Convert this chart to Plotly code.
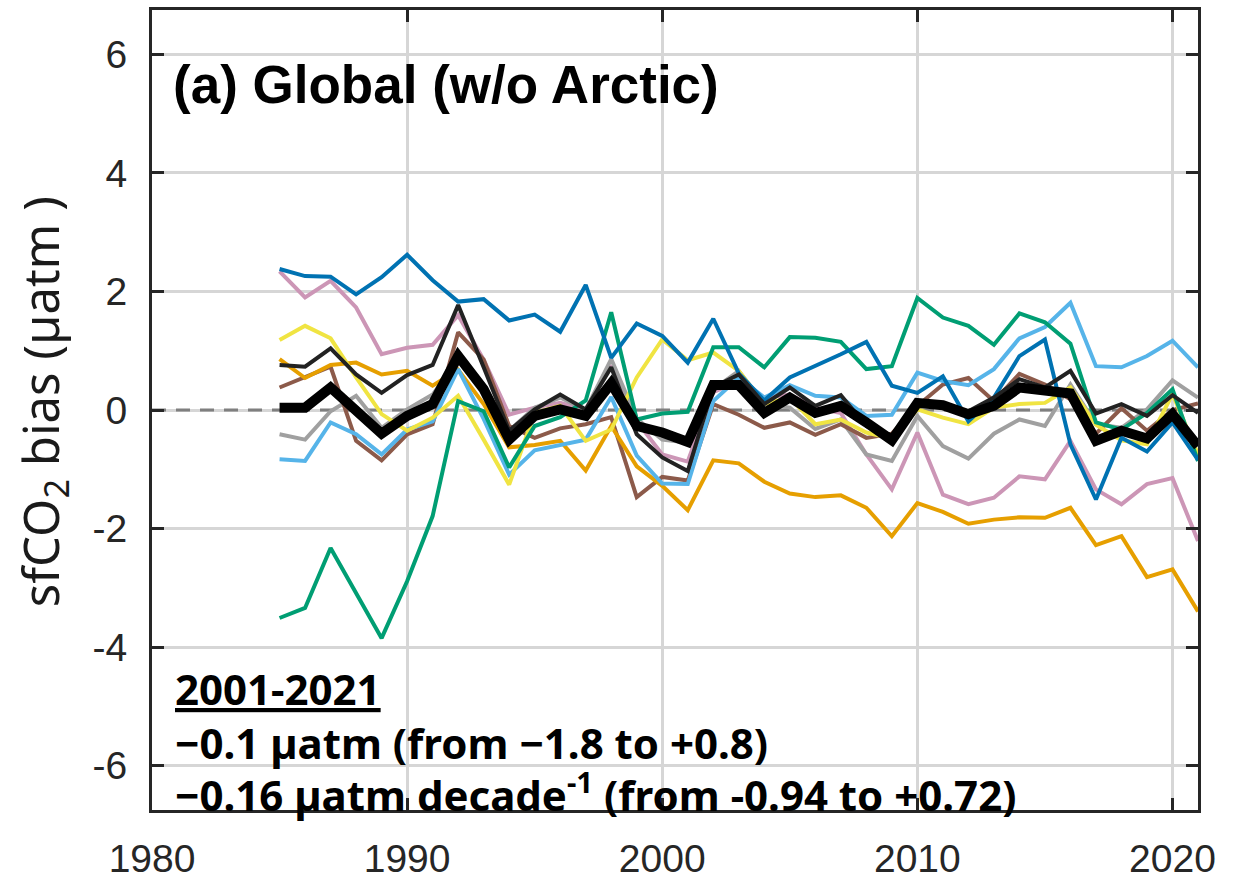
import plotly.graph_objects as go

years = list(range(1985, 2022))

# Individual product biases (µatm), one list per product
blue = [2.38, 2.26, 2.25, 1.95, 2.24, 2.62, 2.19, 1.83, 1.87, 1.51, 1.61, 1.32, 2.11, 0.88, 1.46, 1.25,
        0.80, 1.54, 0.62, 0.16, 0.55, 0.74, 0.94, 1.15, 0.41, 0.29, 0.57, -0.19, 0.21, 0.91, 1.19,
        -0.58, -1.51, -0.47, -0.70, -0.21, -0.84]
orange = [0.86, 0.54, 0.76, 0.80, 0.60, 0.66, 0.41, 0.68, 0.10, -0.63, -0.59, -0.52, -1.02, -0.27, -0.95, -1.28,
          -1.69, -0.85, -0.90, -1.21, -1.41, -1.47, -1.44, -1.65, -2.13, -1.57, -1.72, -1.92, -1.85, -1.81, -1.82,
          -1.65, -2.28, -2.13, -2.82, -2.69, -3.40]
skyblue = [-0.83, -0.86, -0.21, -0.41, -0.75, -0.33, -0.19, 0.69, -0.15, -1.09, -0.68, -0.59, -0.50, 0.22, -0.77, -1.24,
           -1.25, 0.15, 0.55, 0.21, 0.42, 0.24, 0.21, -0.10, -0.08, 0.63, 0.49, 0.42, 0.69, 1.21, 1.40,
           1.81, 0.74, 0.72, 0.91, 1.17, 0.72]
green = [-3.51, -3.34, -2.33, -3.09, -3.85, -2.89, -1.79, 0.15, -0.02, -0.97, -0.27, -0.12, 0.16, 1.65, -0.16, -0.06,
         -0.03, 1.06, 1.06, 0.72, 1.23, 1.22, 1.15, 0.69, 0.74, 1.89, 1.56, 1.42, 1.10, 1.63, 1.48,
         1.12, -0.21, -0.33, -0.05, 0.35, -0.86]
yellow = [1.18, 1.42, 1.21, 0.55, -0.07, -0.35, -0.13, 0.24, -0.50, -1.26, -0.05, 0.07, -0.52, -0.33, 0.55, 1.19,
          0.84, 0.97, 0.66, 0.10, 0.21, -0.24, -0.16, -0.38, -0.48, 0.01, -0.13, -0.24, 0.04, 0.10, 0.12,
          0.38, -0.25, -0.51, -0.58, 0.27, -0.75]
pink = [2.34, 1.90, 2.18, 1.73, 0.94, 1.05, 1.10, 1.60, 0.85, -0.08, 0.04, 0.12, 0.00, 0.75, -0.19, -0.75,
        -0.87, 0.30, 0.49, 0.21, 0.26, 0.04, -0.05, -0.75, -1.34, -0.38, -1.43, -1.59, -1.48, -1.12, -1.17,
        -0.52, -1.34, -1.59, -1.25, -1.15, -2.21]
brown = [0.38, 0.55, 0.73, -0.52, -0.85, -0.41, -0.24, 1.31, 0.85, -0.27, -0.47, -0.31, -0.24, -0.12, -1.47, -1.13,
         -1.19, 0.10, -0.08, -0.30, -0.21, -0.42, -0.24, -0.47, -0.40, 0.07, 0.43, 0.54, 0.15, 0.61, 0.43,
         0.18, -0.40, 0.03, -0.35, 0.00, 0.11]
gray = [-0.41, -0.50, -0.02, 0.24, -0.30, 0.01, 0.26, 0.85, 0.40, -0.35, 0.04, 0.21, 0.00, 0.86, -0.15, -0.50,
        -0.55, 0.35, 0.66, 0.10, 0.04, -0.32, -0.16, -0.75, -0.86, -0.10, -0.61, -0.82, -0.40, -0.16, -0.27,
        0.43, -0.24, -0.30, 0.01, 0.50, 0.21]
darkgray = [0.76, 0.73, 1.04, 0.60, 0.29, 0.59, 0.76, 1.77, 0.72, -0.35, 0.01, 0.26, 0.01, 0.72, -0.41, -0.80,
            -1.03, 0.38, 0.60, 0.10, 0.38, 0.07, 0.25, -0.27, -0.43, 0.15, 0.05, -0.02, 0.21, 0.52, 0.38,
            0.66, -0.06, 0.10, -0.10, 0.25, -0.05]
# Ensemble mean
ensemble = [0.04, 0.04, 0.38, -0.02, -0.40, -0.10, 0.10, 0.91, 0.35, -0.50, -0.10, 0.01, -0.10, 0.45, -0.27, -0.38,
            -0.54, 0.42, 0.42, -0.05, 0.21, -0.05, 0.07, -0.21, -0.51, 0.12, 0.08, -0.07, 0.07, 0.38, 0.33,
            0.28, -0.52, -0.35, -0.48, -0.07, -0.61]

x_range = [1980, 2021]
x_ticks = [1980, 1990, 2000, 2010, 2020]
y_ticks = [-6, -4, -2, 0, 2, 4, 6]
y_ticktext = ["-6", "-4", "-2", "0", "2", "4", "6"]

stats_lines = [
    "<b><u>2001-2021</u></b>",
    "<b>\u22120.1 µatm (from \u22121.8 to +0.8)</b>",
    "<b>\u22120.16 µatm decade<sup>-1</sup> (from -0.94 to +0.72)</b>",
]

series = [
    (pink, "#CC96B6", 4),
    (gray, "#A0A0A0", 4),
    (brown, "#8C5A4A", 4),
    (orange, "#E69F00", 4),
    (skyblue, "#56B4E9", 4),
    (yellow, "#F0E442", 4),
    (green, "#009E73", 4),
    (blue, "#0072B2", 4),
    (darkgray, "#222222", 4),
    (ensemble, "#000000", 10),
]

fig = go.Figure()

# dashed zero reference across the full time axis
fig.add_trace(go.Scatter(x=x_range, y=[0, 0], mode="lines",
                         line=dict(color="#7F7F7F", width=3, dash="14px,10px"),
                         showlegend=False, hoverinfo="skip"))

for vals, col, w in series:
    fig.add_trace(go.Scatter(x=years, y=vals, mode="lines",
                             line=dict(color=col, width=w), showlegend=False))

axis_common = dict(
    showline=True, linewidth=3, linecolor="#262626", mirror="ticks",
    ticks="inside", ticklen=12, tickwidth=3, tickcolor="#262626",
    showgrid=True, gridcolor="#D6D6D6", gridwidth=2.5, zeroline=False,
    tickfont=dict(family="Liberation Sans, Arial", size=39, color="#262626"),
    automargin=False,
)

fig.update_xaxes(range=x_range, tickvals=x_ticks, ticklabelstandoff=12, **axis_common)
fig.update_yaxes(range=[-6.75, 6.75], tickvals=y_ticks, ticktext=y_ticktext,
                 ticklabelstandoff=14, **axis_common)

fig.add_annotation(text="<b>(a) Global (w/o Arctic)</b>", xref="paper", yref="paper",
                   x=0.018, y=0.907, xanchor="left", yanchor="middle", showarrow=False,
                   font=dict(family="Liberation Sans, Arial", size=53, color="#000000"))

fig.add_annotation(text="sfCO<sub>2</sub> bias (µatm )", xref="paper", yref="paper",
                   x=-0.104, y=0.51, xanchor="center", yanchor="middle", textangle=-90,
                   showarrow=False,
                   font=dict(family="Noto Sans", size=49, color="#1A1A1A"))

# trend summary, one annotation per line
for txt, ypos in zip(stats_lines, [0.1525, 0.085, 0.0225]):
    fig.add_annotation(text=txt, xref="paper", yref="paper", x=0.02, y=ypos,
                       xanchor="left", yanchor="middle", align="left", showarrow=False,
                       font=dict(family="Noto Sans", size=42, color="#000000"))

fig.update_layout(
    width=1248, height=879,
    margin=dict(l=152, r=50, t=10, b=69),
    paper_bgcolor="white", plot_bgcolor="white",
)

fig.write_html("out.html")
